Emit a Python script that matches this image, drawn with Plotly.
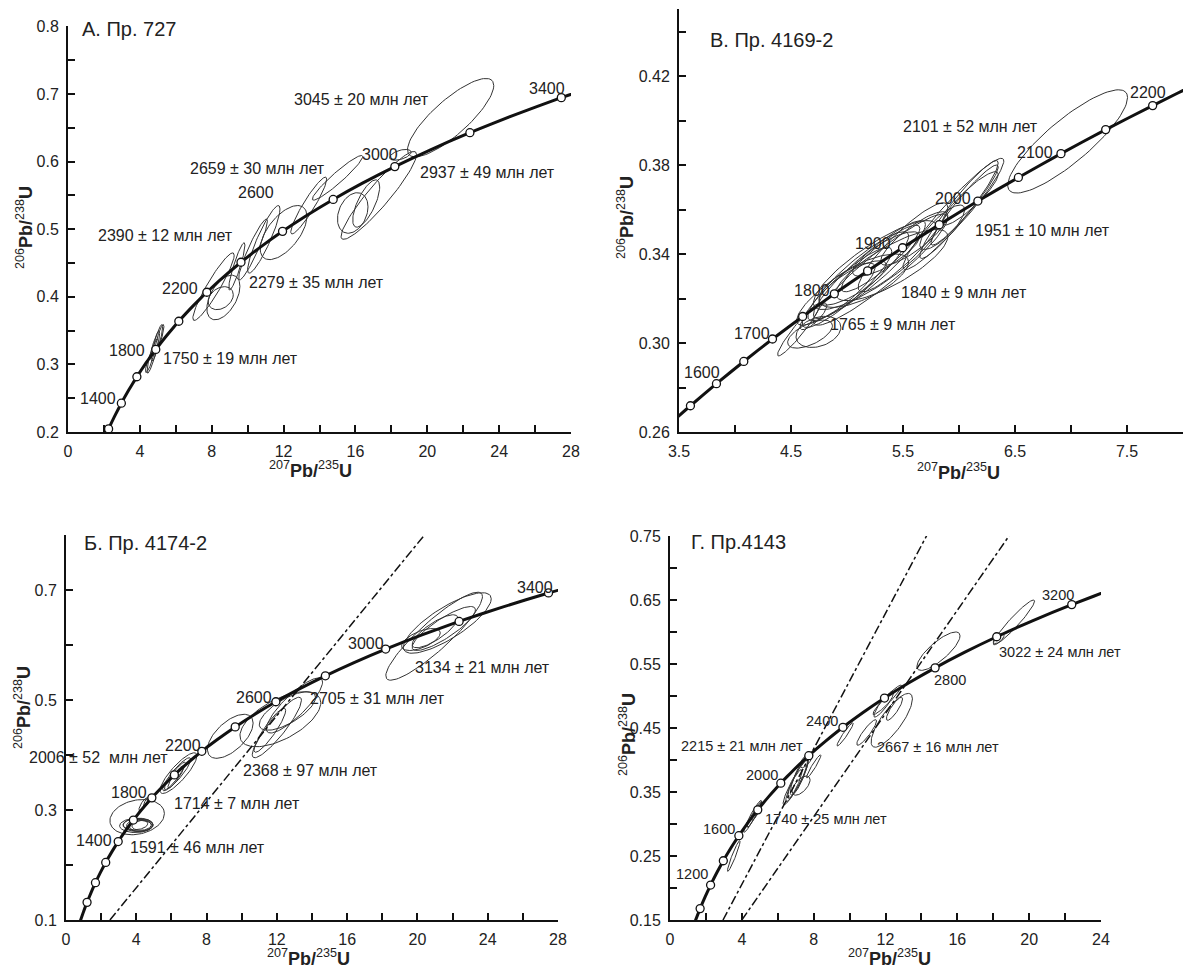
import numpy as np
import plotly.graph_objects as go

W, H = 1190, 970

# ---------------- concordia table (age, Ma ; 207Pb/235U ; 206Pb/238U) -------------
CONC_AGE = [600, 700, 800, 900, 1000, 1100, 1200, 1300, 1400, 1500, 1550, 1600, 1650,
            1700, 1750, 1800, 1850, 1900, 1950, 2000, 2050, 2100, 2150, 2200, 2250,
            2300, 2400, 2500, 2600, 2700, 2800, 2900, 3000, 3100, 3200, 3300, 3400, 3500]
CONC_X = [0.8056, 0.9925, 1.1987, 1.4263, 1.6774, 1.9545, 2.2603, 2.5977, 2.9701, 3.3810,
          3.6021, 3.8344, 4.0784, 4.3347, 4.6040, 4.8869, 5.1840, 5.4962, 5.8241, 6.1685,
          6.5304, 6.9104, 7.3097, 7.7292, 8.1698, 8.6326, 9.6296, 10.7297, 11.9437,
          13.2834, 14.7617, 16.3929, 18.1931, 20.1795, 22.3716, 24.7905, 27.4604, 30.4059]
CONC_Y = [0.0975, 0.1147, 0.1321, 0.1498, 0.1678, 0.1861, 0.2046, 0.2234, 0.2426, 0.2620,
          0.2718, 0.2817, 0.2917, 0.3018, 0.3119, 0.3221, 0.3324, 0.3428, 0.3532, 0.3638,
          0.3744, 0.3851, 0.3959, 0.4067, 0.4177, 0.4287, 0.4511, 0.4738, 0.4968,
          0.5202, 0.5440, 0.5681, 0.5926, 0.6175, 0.6428, 0.6685, 0.6946, 0.7211]

# age markers on each concordia
MARK_A = [1200, 1400, 1600, 1800, 2000, 2200, 2400, 2600, 2800, 3000, 3200, 3400]
MARK_B = [1550, 1600, 1650, 1700, 1750, 1800, 1850, 1900, 1950, 2000, 2050, 2100, 2150, 2200]
MARK_V = [800, 1000, 1200, 1400, 1600, 1800, 2000, 2200, 2400, 2600, 2800, 3000, 3200, 3400]
MARK_G = [1000, 1200, 1400, 1600, 1800, 2000, 2200, 2400, 2600, 2800, 3000, 3200]

# ---------------- error ellipses: centre x, centre y, half-width x, half-width y, rho -------
ELL_A_CX = [4.55, 4.75, 4.95, 5.10, 4.85, 8.10, 8.65, 8.50, 9.40, 10.3, 10.9, 12.0,
            13.4, 15.0, 15.85, 16.6, 17.3, 21.3, 18.5]
ELL_A_CY = [0.305, 0.318, 0.332, 0.340, 0.325, 0.415, 0.399, 0.398, 0.445, 0.470, 0.485, 0.495,
            0.535, 0.576, 0.524, 0.538, 0.550, 0.665, 0.610]
ELL_A_SX = [0.24, 0.35, 0.32, 0.24, 0.17, 1.15, 0.92, 0.70, 0.45, 0.80, 0.90, 1.30,
            1.00, 1.40, 0.85, 0.75, 2.10, 2.40, 0.60]
ELL_A_SY = [0.017, 0.031, 0.027, 0.019, 0.013, 0.050, 0.033, 0.017, 0.035, 0.045, 0.050, 0.040,
            0.042, 0.033, 0.030, 0.035, 0.065, 0.058, 0.008]
ELL_A_R = [0.86, 0.90, 0.88, 0.85, 0.75, 0.93, 0.50, 0.30, 0.90, 0.93, 0.90, 0.60,
           0.93, 0.95, 0.30, 0.70, 0.93, 0.82, 0.50]

ELL_B_CX = [4.57, 4.67, 4.745, 4.70, 4.90, 5.00, 5.10, 5.20, 5.25, 5.15, 5.30, 5.05, 5.40, 5.35,
            5.50, 5.60, 5.30, 6.00, 5.95, 6.05, 6.10, 5.85, 6.97]
ELL_B_CY = [0.306, 0.304, 0.305, 0.312, 0.322, 0.325, 0.330, 0.333, 0.335, 0.328, 0.338, 0.327,
            0.335, 0.340, 0.343, 0.347, 0.333, 0.360, 0.358, 0.362, 0.365, 0.352, 0.3906]
ELL_B_SX = [0.19, 0.20, 0.20, 0.12, 0.35, 0.40, 0.45, 0.50, 0.55, 0.40, 0.35, 0.30, 0.50, 0.30,
            0.40, 0.30, 0.60, 0.35, 0.45, 0.30, 0.25, 0.20, 0.535]
ELL_B_SY = [0.0118, 0.0063, 0.007, 0.006, 0.014, 0.018, 0.020, 0.022, 0.020, 0.012, 0.015, 0.010,
            0.016, 0.010, 0.020, 0.012, 0.025, 0.022, 0.025, 0.018, 0.012, 0.010, 0.0232]
ELL_B_R = [0.95, 0.6, 0.3, 0.8, 0.85, 0.90, 0.90, 0.92, 0.85, 0.70, 0.90, 0.80, 0.80, 0.80,
           0.90, 0.85, 0.93, 0.95, 0.95, 0.95, 0.90, 0.80, 0.85]

ELL_V_CX = [4.05, 4.00, 4.10, 4.20, 4.25, 4.30, 3.95, 4.40, 4.60, 6.40, 6.30, 6.20, 6.25,
            9.35, 12.2, 12.0, 11.6, 12.6, 13.0, 21.7, 20.95, 21.0, 21.5, 20.2]
ELL_V_CY = [0.287, 0.272, 0.273, 0.272, 0.271, 0.272, 0.274, 0.310, 0.315, 0.367, 0.365, 0.362,
            0.360, 0.434, 0.465, 0.450, 0.445, 0.480, 0.490, 0.640, 0.616, 0.625, 0.630, 0.610]
ELL_V_SX = [1.55, 0.95, 0.85, 0.75, 0.65, 0.55, 0.70, 0.25, 0.20, 1.05, 0.80, 0.60, 0.45,
            1.30, 2.30, 1.40, 0.90, 1.60, 1.60, 2.50, 2.75, 1.30, 1.80, 1.10]
ELL_V_SY = [0.032, 0.013, 0.012, 0.011, 0.010, 0.009, 0.010, 0.012, 0.010, 0.037, 0.030, 0.025,
            0.020, 0.040, 0.050, 0.055, 0.040, 0.035, 0.050, 0.055, 0.080, 0.030, 0.040, 0.020]
ELL_V_R = [0.20, 0.05, 0.05, 0.05, 0.05, 0.10, 0.10, 0.80, 0.80, 0.85, 0.90, 0.92, 0.90,
           0.60, 0.60, 0.90, 0.90, 0.70, 0.85, 0.80, 0.90, 0.80, 0.85, 0.60]

ELL_G_CX = [3.55, 4.70, 4.60, 4.85, 7.00, 7.10, 7.20, 6.90, 7.30, 7.60, 8.00, 9.75,
            12.35, 10.95, 12.1, 11.9, 12.5, 14.95, 19.15, 18.3]
ELL_G_CY = [0.250, 0.315, 0.312, 0.320, 0.365, 0.370, 0.375, 0.360, 0.360, 0.400, 0.390, 0.440,
            0.462, 0.443, 0.494, 0.487, 0.480, 0.570, 0.615, 0.590]
ELL_G_SX = [0.35, 0.40, 0.50, 0.30, 0.70, 0.55, 0.50, 0.45, 0.50, 0.35, 0.40, 0.45,
            1.15, 0.55, 0.80, 0.55, 0.45, 1.20, 1.15, 0.30]
ELL_G_SY = [0.024, 0.020, 0.025, 0.014, 0.035, 0.030, 0.030, 0.025, 0.015, 0.012, 0.018, 0.018,
            0.042, 0.020, 0.023, 0.020, 0.018, 0.030, 0.035, 0.008]
ELL_G_R = [0.95, 0.95, 0.95, 0.90, 0.93, 0.90, 0.85, 0.90, 0.60, 0.70, 0.95, 0.95,
           0.80, 0.90, 0.95, 0.90, 0.85, 0.80, 0.95, 0.60]

# discordia lines (end points)
DISC_V_X = [[2.5, 20.4]]
DISC_V_Y = [[0.10, 0.80]]
DISC_G_X = [[2.95, 14.3], [4.0, 19.05]]
DISC_G_Y = [[0.15, 0.751], [0.15, 0.757]]

# ---------------- text --------------------------------------------------------------
TITLES = ["А. Пр. 727", "В. Пр. 4169-2", "Б. Пр. 4174-2", "Г. Пр.4143"]
LABELS_A = ["3045 ± 20 млн лет", "3400", "3000", "2937 ± 49 млн лет", "2659 ± 30 млн лет",
            "2600", "2390 ± 12 млн лет", "2279 ± 35 млн лет", "2200", "1800",
            "1750 ± 19 млн лет", "1400"]
LABELS_B = ["2200", "2101 ± 52 млн лет", "2100", "2000", "1951 ± 10 млн лет", "1900",
            "1840 ± 9 млн лет", "1765 ± 9 млн лет", "1800", "1700", "1600"]
LABELS_V = ["3400", "3000", "3134 ± 21 млн лет", "2705 ± 31 млн лет", "2600",
            "2368 ± 97 млн лет", "2200", "2006 ± 52  млн лет", "1800", "1714 ± 7 млн лет",
            "1400", "1591 ± 46 млн лет"]
LABELS_G = ["3200", "3022 ± 24 млн лет", "2800", "2400", "2667 ± 16 млн лет",
            "2215 ± 21 млн лет", "2000", "1740 ± 25 млн лет", "1600", "1200"]

# ---------------- layout geometry (pixels) -------------------------------------------
PANELS = [
    dict(ax="", x0=68, x1=571, ytop=26.4, ybot=432, xr=[0, 28], yr=[0.2, 0.8],
         xt0=0, xdt=4, xmd=2, yt0=0.2, ydt=0.1, ymd=0.05, yfmt=".1f", xfmt="d"),
    dict(ax="2", x0=679, x1=1183, ytop=9.25, ybot=432, xr=[3.5, 8.0], yr=[0.26, 0.45],
         xt0=3.5, xdt=1, xmd=0.5, yt0=0.26, ydt=0.04, ymd=0.02, yfmt=".2f", xfmt=".1f"),
    dict(ax="3", x0=66, x1=558, ytop=535, ybot=920, xr=[0, 28], yr=[0.1, 0.8],
         xt0=0, xdt=4, xmd=2, yt0=0.1, ydt=0.2, ymd=0.1, yfmt=".1f", xfmt="d"),
    dict(ax="4", x0=670, x1=1101, ytop=536, ybot=920, xr=[0, 24], yr=[0.15, 0.75],
         xt0=0, xdt=4, xmd=2, yt0=0.15, ydt=0.1, ymd=0.05, yfmt=".2f", xfmt="d"),
]

TITLE_POS = [(80, 29), (708, 40), (82, 543), (689, 542)]
LAB_POS_A = [(362, 100), (547, 88), (380, 154), (487, 172), (257, 168), (256, 193),
             (165, 235), (316, 282), (180, 288), (127, 350), (230, 358), (98, 398)]
LAB_POS_B = [(1148, 93), (970, 127), (1035, 152), (953, 199), (1042, 230), (873, 243),
             (964, 292), (893, 325), (812, 290), (752, 333), (702, 373)]
LAB_POS_V = [(535, 587), (366, 643), (482, 667), (377, 698), (254, 697), (310, 770),
             (183, 745), (98, 757), (129, 792), (237, 803), (94, 840), (197, 847)]
LAB_POS_G = [(1058, 595), (1060, 652), (950, 680), (822, 721), (938, 747), (742, 746),
             (762, 775), (826, 819), (719, 829), (692, 874)]
XTITLE_POS = [(310, 469), (958, 471), (308, 957), (889, 957)]
YTITLE_POS = [(24, 228), (626, 218), (22, 708), (627, 735)]

FONT = "Liberation Sans, Arial, sans-serif"
INK = "#111111"
TXT = "#222222"


def ellipse_path(cx, cy, sx, sy, rr):
    xs, ys = [], []
    t = np.linspace(0, 2 * np.pi, 90)
    for a, b, c, d, r in zip(cx, cy, sx, sy, rr):
        xs.extend(list(a + c * np.cos(t)) + [None])
        ys.extend(list(b + d * (r * np.cos(t) + np.sqrt(1 - r * r) * np.sin(t))) + [None])
    return xs, ys


def conc_points(ages):
    idx = [CONC_AGE.index(a) for a in ages]
    return [CONC_X[i] for i in idx], [CONC_Y[i] for i in idx]


fig = go.Figure()

ELLS = [(ELL_A_CX, ELL_A_CY, ELL_A_SX, ELL_A_SY, ELL_A_R),
        (ELL_B_CX, ELL_B_CY, ELL_B_SX, ELL_B_SY, ELL_B_R),
        (ELL_V_CX, ELL_V_CY, ELL_V_SX, ELL_V_SY, ELL_V_R),
        (ELL_G_CX, ELL_G_CY, ELL_G_SX, ELL_G_SY, ELL_G_R)]
MARKS = [MARK_A, MARK_B, MARK_V, MARK_G]
DISCS = [None, None, (DISC_V_X, DISC_V_Y), (DISC_G_X, DISC_G_Y)]

layout = {}
for i, p in enumerate(PANELS):
    xa, ya = "x" + p["ax"], "y" + p["ax"]
    ex, ey = ellipse_path(*ELLS[i])
    fig.add_trace(go.Scatter(x=ex, y=ey, mode="lines", xaxis=xa, yaxis=ya,
                             line=dict(color="#333333", width=1), hoverinfo="skip",
                             showlegend=False))
    if DISCS[i] is not None:
        for lx, ly in zip(*DISCS[i]):
            fig.add_trace(go.Scatter(x=lx, y=ly, mode="lines", xaxis=xa, yaxis=ya,
                                     line=dict(color=INK, width=1.5, dash="dashdot"),
                                     showlegend=False, hoverinfo="skip"))
    fig.add_trace(go.Scatter(x=CONC_X, y=CONC_Y, mode="lines", xaxis=xa, yaxis=ya,
                             line=dict(color=INK, width=3, shape="spline", smoothing=0.6),
                             showlegend=False, hoverinfo="skip"))
    mx, my = conc_points(MARKS[i])
    fig.add_trace(go.Scatter(x=mx, y=my, mode="markers", xaxis=xa, yaxis=ya, cliponaxis=False,
                             marker=dict(size=8, color="white", line=dict(color=INK, width=1.3)),
                             showlegend=False, text=[str(a) for a in MARKS[i]]))

    axcommon = dict(showline=True, linecolor=INK, linewidth=2, ticks="inside", ticklen=7,
                    tickwidth=2, tickcolor=INK, showgrid=False, zeroline=False,
                    automargin=False, ticklabelstandoff=4,
                    tickfont=dict(family=FONT, size=16, color=TXT), fixedrange=True)
    layout["xaxis" + p["ax"]] = dict(
        domain=[p["x0"] / W, p["x1"] / W], range=p["xr"], anchor=ya, tick0=p["xt0"],
        dtick=p["xdt"], tickformat=p["xfmt"],
        minor=dict(ticks="inside", ticklen=7, tickwidth=2, tickcolor=INK, dtick=p["xmd"],
                   tick0=p["xt0"], showgrid=False), **axcommon)
    layout["yaxis" + p["ax"]] = dict(
        domain=[1 - p["ybot"] / H, 1 - p["ytop"] / H], range=p["yr"], anchor=xa,
        tick0=p["yt0"], dtick=p["ydt"], tickformat=p["yfmt"],
        minor=dict(ticks="inside", ticklen=7, tickwidth=2, tickcolor=INK, dtick=p["ymd"],
                   tick0=p["yt0"], showgrid=False), **axcommon)

ann = []


def add_txt(text, pos, size=15, xanchor="center", **kw):
    ann.append(dict(text=text, x=pos[0] / W, y=1 - pos[1] / H, xref="paper", yref="paper",
                    showarrow=False, xanchor=xanchor, yanchor="middle",
                    font=dict(family=FONT, size=size, color=TXT), **kw))


for t, pos in zip(TITLES, TITLE_POS):
    add_txt(t, pos, size=20, xanchor="left")
for labs, poss, sz in [(LABELS_A, LAB_POS_A, 16), (LABELS_B, LAB_POS_B, 16),
                       (LABELS_V, LAB_POS_V, 16), (LABELS_G, LAB_POS_G, 14.5)]:
    for t, pos in zip(labs, poss):
        add_txt(t, pos, size=sz)

XT = "<sup>207</sup><b>Pb/</b><sup>235</sup><b>U</b>"
YT = "<sup>206</sup><b>Pb/</b><sup>238</sup><b>U</b>"
for pos in XTITLE_POS:
    add_txt(XT, pos, size=18)
for pos in YTITLE_POS:
    add_txt(YT, pos, size=18, textangle=-90)

fig.update_layout(width=W, height=H, margin=dict(l=0, r=0, t=0, b=0, autoexpand=False),
                  paper_bgcolor="white", plot_bgcolor="white", annotations=ann,
                  showlegend=False, **layout)

fig.write_html("out.html", config={"displayModeBar": False},
               post_script="document.body.style.margin='0px';"
                           "document.body.style.overflow='hidden';")
